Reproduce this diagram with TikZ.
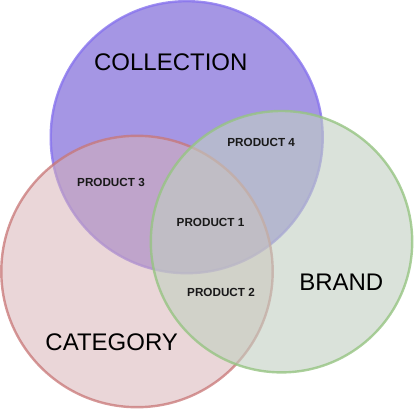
\documentclass[tikz,border=0pt]{standalone}
\usepackage{fontspec}
\setmainfont{Liberation Sans}
\definecolor{collfill}{RGB}{165,150,228}
\definecolor{colldraw}{RGB}{135,115,238}
\definecolor{catfill}{RGB}{215,177,181}
\definecolor{catdraw}{RGB}{200,118,118}
\definecolor{brandfill}{RGB}{193,207,193}
\definecolor{branddraw}{RGB}{150,196,130}
\begin{document}
\begin{tikzpicture}[x=1pt,y=1pt,
  setcircle/.style={circle, inner sep=0pt, line width=2.4pt},
  biglabel/.style={font=\fontsize{24}{28}\selectfont, text=black, inner sep=0pt},
  smalllabel/.style={font=\bfseries\fontsize{11.7}{14}\selectfont, text=black!90, inner sep=0pt}]
\useasboundingbox (0,0) rectangle (415,412);
\node[setcircle, minimum size=272pt, fill=collfill, draw=colldraw, draw opacity=0.8] (coll) at (186.7,274.8) {};
\node[setcircle, minimum size=271.4pt, fill=catfill, fill opacity=0.53, draw=catdraw, draw opacity=0.75] (cat) at (137,140.5) {};
\node[setcircle, minimum size=261.4pt, fill=brandfill, fill opacity=0.6, draw=branddraw, draw opacity=0.8] (brand) at (281.5,170.3) {};
\node[biglabel] (lcoll) at (170.8,349.5) {COLLECTION};
\node[biglabel] (lcat) at (111.7,70) {CATEGORY};
\node[biglabel] (lbrand) at (341.3,130) {BRAND};
\node[smalllabel] (p4) at (261.2,270) {PRODUCT 4};
\node[smalllabel] (p3) at (111,229.2) {PRODUCT 3};
\node[smalllabel] (p1) at (210.5,189.2) {PRODUCT 1};
\node[smalllabel] (p2) at (221,119.5) {PRODUCT 2};
\end{tikzpicture}
\end{document}
